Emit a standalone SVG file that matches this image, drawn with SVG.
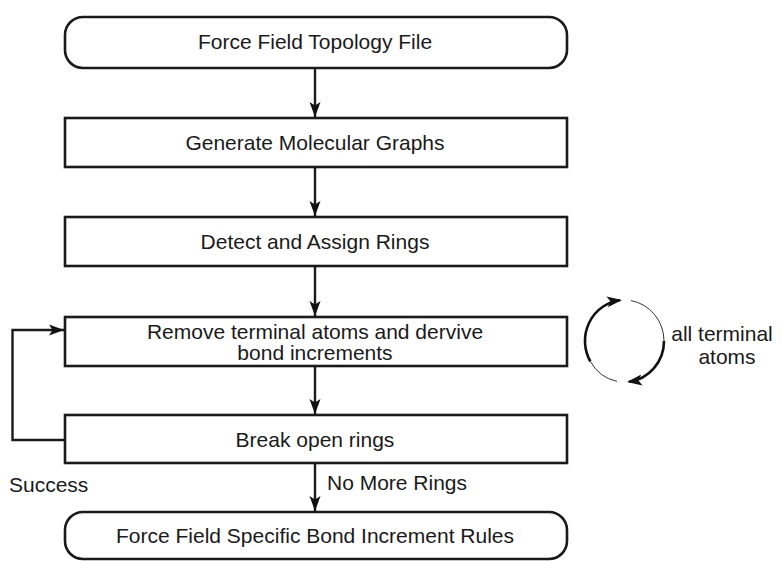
<svg xmlns="http://www.w3.org/2000/svg" width="782" height="562" viewBox="0 0 782 562">
<defs>
<marker id="ah" markerUnits="userSpaceOnUse" markerWidth="16" markerHeight="12" viewBox="0 0 16 12" refX="15" refY="6" orient="auto">
<path d="M0,0.5 L15,6 L0,11.5 L3.5,6 z" fill="#111"/>
</marker>
<marker id="ah2" markerUnits="userSpaceOnUse" markerWidth="16" markerHeight="12" viewBox="0 0 16 12" refX="13" refY="6" orient="auto">
<path d="M0,0.5 L15,6 L0,11.5 L3.5,6 z" fill="#111"/>
</marker>
</defs>
<style>
.box{fill:#fff;stroke:#1a1a1a;stroke-width:2.6}
.t{font-family:"Liberation Sans",Arial,sans-serif;font-size:21px;fill:#1a1a1a;text-anchor:middle}
.tl{font-family:"Liberation Sans",Arial,sans-serif;font-size:21px;fill:#1a1a1a}
.c{fill:none;stroke:#1a1a1a;stroke-width:2.4}
.thin{fill:none;stroke:#333;stroke-width:1}
.thick{fill:none;stroke:#111;stroke-width:2.6}
</style>
<rect width="782" height="562" fill="#fff"/>
<g id="connectors">
<line class="c" x1="315" y1="68" x2="315" y2="117" marker-end="url(#ah)"/>
<line class="c" x1="315" y1="167" x2="315" y2="216" marker-end="url(#ah)"/>
<line class="c" x1="315" y1="266" x2="315" y2="316" marker-end="url(#ah)"/>
<line class="c" x1="315" y1="366" x2="315" y2="414" marker-end="url(#ah)"/>
<line class="c" x1="315" y1="463" x2="315" y2="511" marker-end="url(#ah)"/>
<polyline class="c" points="65,440 12.5,440 12.5,330 64,330" marker-end="url(#ah)"/>
<text class="tl" x="327" y="490">No More Rings</text>
<text class="tl" x="9" y="492">Success</text>
</g>
<g id="n1">
<rect class="box" x="65" y="17" width="502" height="51" rx="18" ry="18"/>
<text class="t" x="315" y="49">Force Field Topology File</text>
</g>
<g id="n2">
<rect class="box" x="65" y="118" width="502" height="49"/>
<text class="t" x="315" y="150">Generate Molecular Graphs</text>
</g>
<g id="n3">
<rect class="box" x="65" y="217" width="502" height="49"/>
<text class="t" x="315" y="249">Detect and Assign Rings</text>
</g>
<g id="n4">
<rect class="box" x="65" y="317" width="502" height="49"/>
<text class="t" x="315" y="339">Remove terminal atoms and dervive</text>
<text class="t" x="315" y="360">bond increments</text>
</g>
<g id="n5">
<rect class="box" x="65" y="415" width="502" height="48"/>
<text class="t" x="315" y="447">Break open rings</text>
</g>
<g id="n6">
<rect class="box" x="65" y="512" width="502" height="47" rx="18" ry="18"/>
<text class="t" x="315" y="543">Force Field Specific Bond Increment Rules</text>
</g>
<g id="cycle">
<path class="thick" d="M590.4,361.5 A40,41 0 0 1 620,300.2" marker-end="url(#ah2)"/>
<path class="thin" d="M631,300.6 A40,41 0 0 1 664,341"/>
<path class="thick" d="M664,341 A40,41 0 0 1 629,381.7" marker-end="url(#ah2)"/>
<path class="thin" d="M617,381.4 A40,41 0 0 1 590.4,361.5"/>
<text class="t" x="722" y="341">all terminal</text>
<text class="t" x="727" y="364">atoms</text>
</g>
</svg>
